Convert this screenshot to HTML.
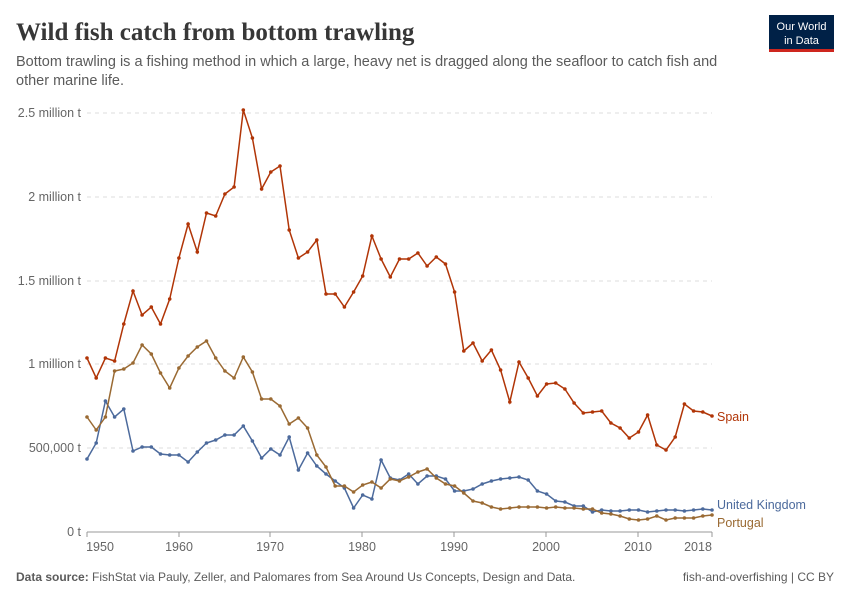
<!DOCTYPE html>
<html><head><meta charset="utf-8"><style>
body{margin:0;background:#fff;font-family:"Liberation Sans",sans-serif;}
</style></head><body>
<svg width="850" height="600" xmlns="http://www.w3.org/2000/svg" font-family="Liberation Sans, sans-serif">
<defs>
<marker id="ms" markerWidth="4" markerHeight="4" refX="2" refY="2" markerUnits="userSpaceOnUse"><circle cx="2" cy="2" r="1.8" fill="#b13507"/></marker>
<marker id="mp" markerWidth="4" markerHeight="4" refX="2" refY="2" markerUnits="userSpaceOnUse"><circle cx="2" cy="2" r="1.8" fill="#9a6a33"/></marker>
<marker id="mu" markerWidth="4" markerHeight="4" refX="2" refY="2" markerUnits="userSpaceOnUse"><circle cx="2" cy="2" r="1.8" fill="#4c6a9c"/></marker>
</defs>
<rect width="850" height="600" fill="#fff"/>
<text x="16" y="40" font-family="Liberation Serif, serif" font-size="25" font-weight="bold" fill="#373737">Wild fish catch from bottom trawling</text>
<text x="16" y="66" font-size="14.5" fill="#5b5b5b">Bottom trawling is a fishing method in which a large, heavy net is dragged along the seafloor to catch fish and</text>
<text x="16" y="85" font-size="14.5" fill="#5b5b5b">other marine life.</text>
<rect x="769" y="15" width="65" height="36" fill="#002147"/>
<rect x="769" y="49" width="65" height="3" fill="#ce261e"/>
<text x="801.5" y="30" font-size="11" fill="#fff" text-anchor="middle">Our World</text>
<text x="801.5" y="44" font-size="11" fill="#fff" text-anchor="middle">in Data</text>
<g stroke="#ddd" stroke-dasharray="4,4" stroke-width="1">
<line x1="87" x2="712" y1="113" y2="113"/><line x1="87" x2="712" y1="197" y2="197"/><line x1="87" x2="712" y1="281" y2="281"/><line x1="87" x2="712" y1="364" y2="364"/><line x1="87" x2="712" y1="448" y2="448"/>
</g>
<line x1="87" x2="712" y1="532" y2="532" stroke="#999"/>
<g font-size="12.5" fill="#666" text-anchor="end">
<text x="81" y="117">2.5 million t</text><text x="81" y="201">2 million t</text><text x="81" y="285">1.5 million t</text><text x="81" y="368">1 million t</text><text x="81" y="452">500,000 t</text><text x="81" y="536">0 t</text>
</g>
<g stroke="#999"><line x1="87" x2="87" y1="532" y2="537"/><line x1="179" x2="179" y1="532" y2="537"/><line x1="270" x2="270" y1="532" y2="537"/><line x1="362" x2="362" y1="532" y2="537"/><line x1="454" x2="454" y1="532" y2="537"/><line x1="546" x2="546" y1="532" y2="537"/><line x1="638" x2="638" y1="532" y2="537"/><line x1="712" x2="712" y1="532" y2="537"/></g>
<g font-size="12.5" fill="#666" text-anchor="middle">
<text x="100" y="551">1950</text><text x="179" y="551">1960</text><text x="270" y="551">1970</text><text x="362" y="551">1980</text><text x="454" y="551">1990</text><text x="546" y="551">2000</text><text x="638" y="551">2010</text><text x="698" y="551">2018</text>
</g>
<polyline fill="none" stroke="#4c6a9c" stroke-width="1.5" marker-start="url(#mu)" marker-mid="url(#mu)" marker-end="url(#mu)" points="87,459 96.2,443 105.4,401 114.6,417 123.8,409 133,451 142.1,447 151.3,447 160.5,454 169.7,455 178.9,455 188.1,462 197.3,452 206.5,443 215.7,440 224.9,435 234.1,435 243.3,426 252.4,441 261.6,458 270.8,449 280,455 289.2,437 298.4,470 307.6,453 316.8,466 326,474 335.2,481 344.4,488 353.6,508 362.7,495 371.9,499 381.1,460 390.3,478 399.5,480 408.7,474 417.9,484 427.1,476 436.3,476 445.5,479 454.6,491 463.8,491 473,489 482.2,484 491.4,481 500.6,479 509.8,478 519,477 528.2,480 537.4,491 546.6,494 555.7,501 564.9,502 574.1,506 583.3,506 592.5,512 601.7,510 610.9,511 620.1,511 629.3,510 638.5,510 647.6,512 656.8,511 666,510 675.2,510 684.4,511 693.6,510 702.8,509 712,510"/>
<polyline fill="none" stroke="#9a6a33" stroke-width="1.5" marker-start="url(#mp)" marker-mid="url(#mp)" marker-end="url(#mp)" points="87,417 96.2,430 105.4,417 114.6,371 123.8,369 133,363 142.1,345 151.3,354 160.5,373 169.7,388 178.9,368 188.1,356 197.3,347 206.5,341 215.7,358 224.9,371 234.1,378 243.3,357 252.4,372 261.6,399 270.8,399 280,406 289.2,424 298.4,418 307.6,428 316.8,455 326,467 335.2,486 344.4,486 353.6,492 362.7,485 371.9,482 381.1,488 390.3,479 399.5,481 408.7,477 417.9,472 427.1,469 436.3,478 445.5,484 454.6,486 463.8,493 473,501 482.2,503 491.4,507 500.6,509 509.8,508 519,507 528.2,507 537.4,507 546.6,508 555.7,507 564.9,508 574.1,508 583.3,509 592.5,509 601.7,513 610.9,514 620.1,516 629.3,519 638.5,520 647.6,519 656.8,516 666,520 675.2,518 684.4,518 693.6,518 702.8,516 712,515"/>
<polyline fill="none" stroke="#b13507" stroke-width="1.5" marker-start="url(#ms)" marker-mid="url(#ms)" marker-end="url(#ms)" points="87,358 96.2,378 105.4,358 114.6,361 123.8,324 133,291 142.1,315 151.3,307 160.5,324 169.7,299 178.9,258 188.1,224 197.3,252 206.5,213 215.7,216 224.9,194 234.1,187 243.3,110 252.4,138 261.6,189 270.8,172 280,166 289.2,230 298.4,258 307.6,252 316.8,240 326,294 335.2,294 344.4,307 353.6,292 362.7,276 371.9,236 381.1,259 390.3,277 399.5,259 408.7,259 417.9,253 427.1,266 436.3,257 445.5,264 454.6,292 463.8,351 473,343 482.2,361 491.4,350 500.6,370 509.8,402 519,362 528.2,378 537.4,396 546.6,384 555.7,383 564.9,389 574.1,403 583.3,413 592.5,412 601.7,411 610.9,423 620.1,428 629.3,438 638.5,432 647.6,415 656.8,445 666,450 675.2,437 684.4,404 693.6,411 702.8,412 712,416"/>
<text x="717" y="421" font-size="12.5" fill="#b13507">Spain</text>
<text x="717" y="509" font-size="12.5" fill="#4c6a9c">United Kingdom</text>
<text x="717" y="527" font-size="12.5" fill="#9a6a33">Portugal</text>
<text x="16" y="581" font-size="12" fill="#5b5b5b"><tspan font-weight="bold">Data source:</tspan> FishStat via Pauly, Zeller, and Palomares from Sea Around Us Concepts, Design and Data.</text>
<text x="834" y="581" font-size="12" fill="#5b5b5b" text-anchor="end">fish-and-overfishing | CC BY</text>
</svg>
</body></html>
